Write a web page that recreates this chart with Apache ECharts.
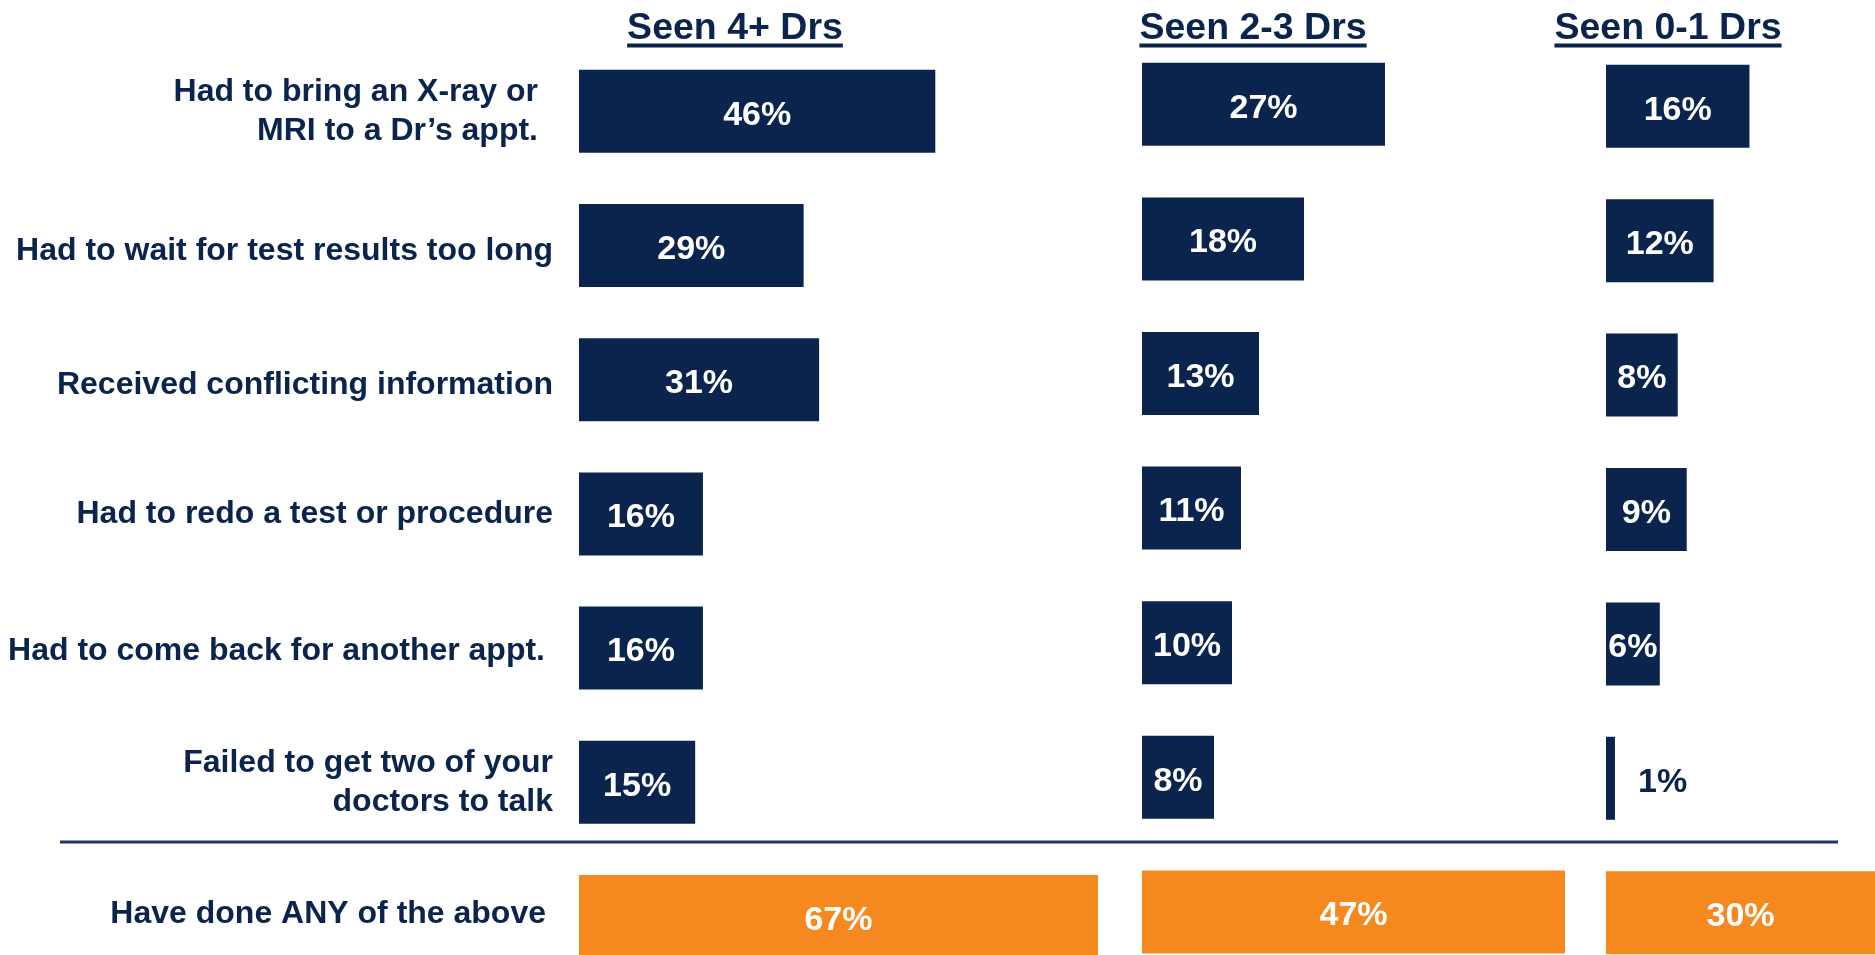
<!DOCTYPE html>
<html>
<head>
<meta charset="utf-8">
<script src="https://cdn.jsdelivr.net/npm/echarts@6/dist/echarts.min.js"></script>
<style>
html,body{margin:0;padding:0;background:#fff;}
#chart{width:1875px;height:955px;}
</style>
</head>
<body>
<div id="chart"></div>
<script>
// ---- data ----
const categories = [
  'Had to bring an X-ray or\nMRI to a Dr\u2019s appt.',
  'Had to wait for test results too long',
  'Received conflicting information',
  'Had to redo a test or procedure',
  'Had to come back for another appt.',
  'Failed to get two of your\ndoctors to talk',
  'Have done ANY of the above'
];
const groupNames = ['Seen 4+ Drs', 'Seen 2-3 Drs', 'Seen 0-1 Drs'];
const seen4Plus = [46, 29, 31, 16, 16, 15, 67];
const seen2to3  = [27, 18, 13, 11, 10, 8, 47];
const seen0to1  = [16, 12, 8, 9, 6, 1, 30];

// ---- styling ----
const NAVY = '#0B244D';
const ORANGE = '#F5891F';
const FONT = '"Liberation Sans", Arial, Helvetica, sans-serif';
const summaryIndex = categories.length - 1;

// grid spans from the centre of the first row to the centre of the last row
const panels = [
  { values: seen4Plus, left: 579,  width: 542.2, max: 70, top: 111.3, step: 134.2, center: 735 },
  { values: seen2to3,  left: 1142, width: 450,   max: 50, top: 104.3, step: 134.6, center: 1253 },
  { values: seen0to1,  left: 1606, width: 269,   max: 30, top: 106.3, step: 134.4, center: 1668 }
];
// hand placement of the row labels in the original: extra right gap, vertical nudge
const labelRightGap = [15, 0, 0, 0, 8, 0, 7];
const labelNudge = [0, 6, 5, 0, 3.5, 0, -2];

const chart = echarts.init(document.getElementById('chart'), null, { renderer: 'canvas' });

const ctx = document.createElement('canvas').getContext('2d');
const headFont = 'bold 37.5px ' + FONT;
ctx.font = headFont;

const labelFont = { color: NAVY, fontFamily: FONT, fontWeight: 'bold', fontSize: 32 };
const rich = {};
labelNudge.forEach((n, k) => {
  if (n !== 0) {
    rich['s' + k] = Object.assign({}, labelFont, {
      lineHeight: 32 + 2 * Math.abs(n),
      verticalAlign: n > 0 ? 'bottom' : 'top'
    });
  }
});

const grids = [], xAxes = [], yAxes = [], series = [], graphics = [];
panels.forEach((p, i) => {
  grids.push({ left: p.left, top: p.top, width: p.width, height: p.step * (categories.length - 1), containLabel: false });
  xAxes.push({ type: 'value', gridIndex: i, min: 0, max: p.max, show: false });
  yAxes.push({
    type: 'category', gridIndex: i, inverse: true, boundaryGap: false,
    data: categories.map((c, k) => ({
      value: c,
      textStyle: { padding: [0, labelRightGap[k], 0, 0] }
    })),
    axisLine: { show: false }, axisTick: { show: false }, splitLine: { show: false },
    axisLabel: Object.assign({}, labelFont, {
      show: i === 0, margin: 26, lineHeight: 39, align: 'right',
      formatter: (value, idx) => labelNudge[idx] ? '{s' + idx + '|' + value + '}' : value,
      rich: rich
    })
  });
  series.push({
    type: 'bar', xAxisIndex: i, yAxisIndex: i, barWidth: 83, clip: false,
    data: p.values.map((v, k) => {
      const item = { value: v, itemStyle: { color: k === summaryIndex ? ORANGE : NAVY } };
      if (v < 3) {
        item.label = { position: 'right', color: NAVY, distance: 23 };
      }
      return item;
    }),
    label: {
      show: true, position: 'inside', formatter: '{c}%', color: '#fff',
      fontFamily: FONT, fontWeight: 'bold', fontSize: 34, offset: [0, 4]
    },
    silent: true, animation: false
  });
  const w = ctx.measureText(groupNames[i]).width;
  graphics.push({
    type: 'text', left: p.center - w / 2, top: 10,
    style: { text: groupNames[i], font: headFont, fill: NAVY }
  });
  graphics.push({
    type: 'rect', shape: { x: p.center - w / 2, y: 43.5, width: w, height: 4 },
    style: { fill: NAVY }
  });
});

graphics.push({
  type: 'line', shape: { x1: 60, y1: 842, x2: 1838, y2: 842 },
  style: { stroke: '#22395F', lineWidth: 3 }
});

chart.setOption({
  animation: false,
  backgroundColor: '#fff',
  grid: grids,
  xAxis: xAxes,
  yAxis: yAxes,
  series: series,
  graphic: graphics
});
</script>
</body>
</html>
